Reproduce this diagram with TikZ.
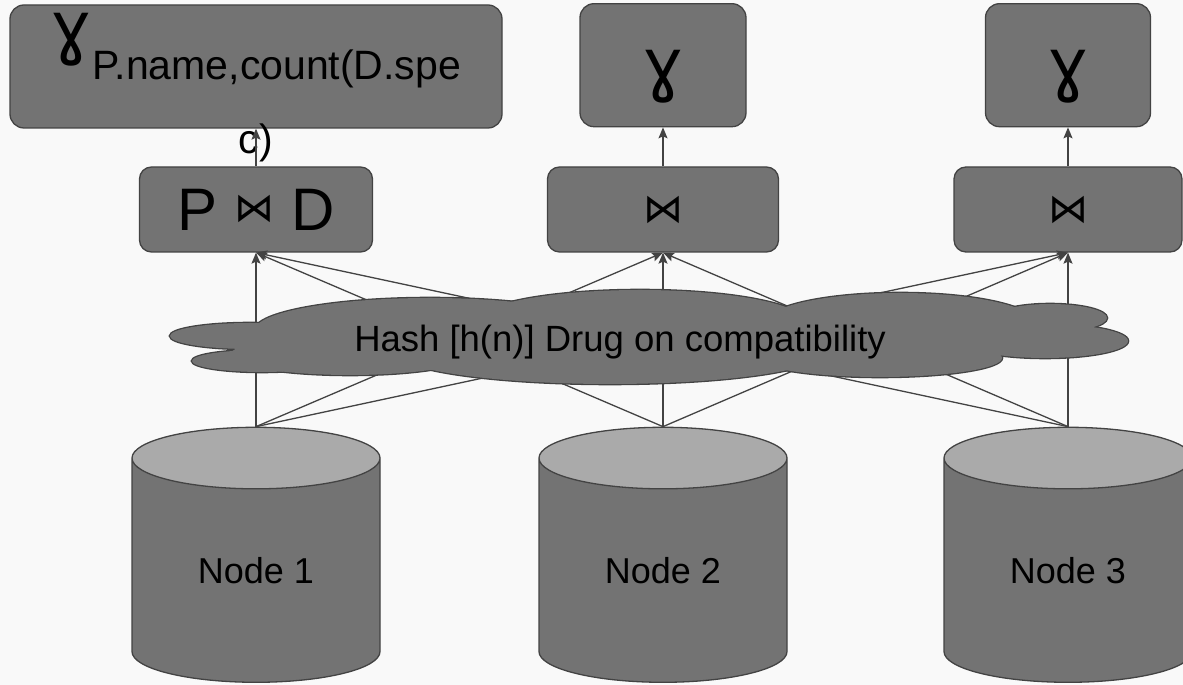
\documentclass[tikz,border=0pt]{standalone}
\usepackage{fontspec}
\setmainfont{Liberation Sans}
\newfontfamily\glyphfont{DejaVu Sans}
\usepackage{tikz}
\usetikzlibrary{positioning,arrows.meta,shapes.geometric}
\definecolor{canvas}{HTML}{F9F9F9}
\definecolor{opfill}{HTML}{737373}
\definecolor{edge}{HTML}{434343}
\definecolor{disktop}{HTML}{AAAAAA}
\newcommand{\gammaop}{{\glyphfont\fontsize{70}{70}\selectfont ɣ}}
\newcommand{\joinop}{{\glyphfont\fontsize{40}{40}\selectfont ⋈}}
\newcommand{\puffs}{250/349/80/13, 262/324/70/11, 430/355/175/32, 640/363/165/32,
  900/362/135/30, 1050/367/57/14, 1045/344/83/17, 880/327/122/19, 610/333/215/32, 350/330/120/20}
\tikzset{
  opbox/.style={draw=edge, fill=opfill, line width=1.3pt, rounded corners=14pt,
                inner sep=0pt, minimum height=123pt, align=center},
  joinbox/.style={draw=edge, fill=opfill, line width=1.3pt, rounded corners=12pt,
                inner sep=0pt, minimum height=85pt, align=center},
  disk/.style={cylinder, shape border rotate=90, aspect=0.53, draw=edge, line width=1.3pt,
               cylinder uses custom fill, cylinder body fill=opfill, cylinder end fill=disktop,
               minimum width=248pt, minimum height=255pt, inner sep=0pt,
               font=\fontsize{36}{40}\selectfont},
  arr/.style={-{Stealth[length=11pt,width=9pt,inset=2pt]}, line width=1.3pt, draw=edge},
}

\begin{document}
\begin{tikzpicture}[x=1pt, y=1pt]
  \fill[canvas] (0,0) rectangle (1183,685);
  \useasboundingbox (0,0) rectangle (1183,685);
  % storage nodes
  \node[disk] (disk1) at (256,114.5) {Node 1};
  \node[disk] (disk2) at (663,114.5) {Node 2};
  \node[disk] (disk3) at (1068,114.5) {Node 3};
  % joins
  \node[joinbox, minimum width=233pt, font=\fontsize{60}{60}\selectfont] (join1) at (256,475.5)
    {P \raisebox{9pt}{\joinop} D};
  \node[joinbox, minimum width=231pt] (join2) at (663,475.5) {\joinop};
  \node[joinbox, minimum width=228pt] (join3) at (1068,475.5) {\joinop};
  % aggregations
  \node[opbox, minimum width=492pt, text height=40pt, text depth=69pt,
        label={[font=\fontsize{41}{41}\selectfont, anchor=base, yshift=-25pt, inner sep=0pt]below:c)}]
    (agg1) at (256,618.5)
    {\gammaop\raisebox{-28pt}{\fontsize{41}{41}\selectfont P.name,count(D.spe}};
  \node[opbox, minimum width=166pt, text height=50pt, text depth=3pt, above=39pt of join2] (agg2) {\gammaop};
  \node[opbox, minimum width=165pt, text height=50pt, text depth=3pt, above=39pt of join3] (agg3) {\gammaop};
  % arrows
  \foreach \s in {1,2,3}
    \foreach \t in {1,2,3}
      \draw[arr] (disk\s.north) -- (join\t.south);
  \foreach \i in {1,2,3}
    \draw[arr] (join\i) -- (agg\i);
  % shuffle cloud
  \foreach \cx/\cy/\rx/\ry in \puffs
    \draw[edge, line width=2.6pt] (\cx,\cy) ellipse [x radius=\rx, y radius=\ry];
  \foreach \cx/\cy/\rx/\ry in \puffs
    \fill[opfill] (\cx,\cy) ellipse [x radius=\rx, y radius=\ry];
  \node[font=\fontsize{36.5}{40}\selectfont] (hash) at (620,343) {Hash [h(n)] Drug on compatibility};
\end{tikzpicture}
\end{document}
